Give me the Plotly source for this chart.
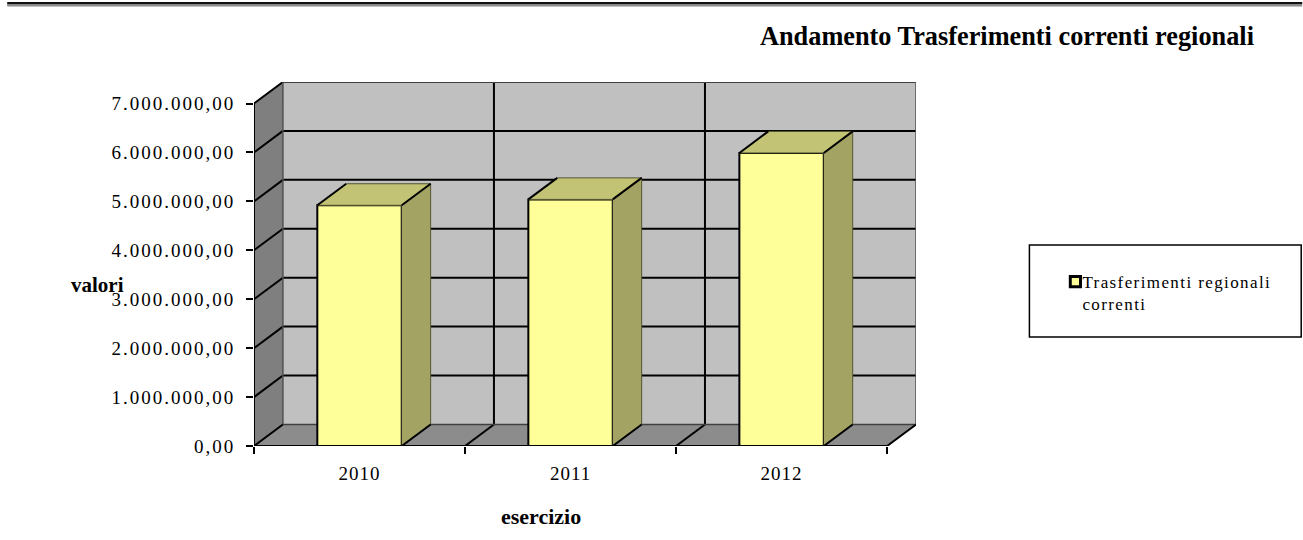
import plotly.graph_objects as go

# --- data ---
years = ["2010", "2011", "2012"]
values = [4920000, 5040000, 5990000]
y_ticks = [0, 1000000, 2000000, 3000000, 4000000, 5000000, 6000000, 7000000]
y_labels = ["0,00", "1.000.000,00", "2.000.000,00", "3.000.000,00",
            "4.000.000,00", "5.000.000,00", "6.000.000,00", "7.000.000,00"]
series_name = "Trasferimenti regionali<br>correnti"
title_text = "Andamento Trasferimenti correnti regionali"

# --- page geometry ---
W, H = 1303, 540
ML, MR, MT, MB = 254, 1303 - 916.5, 82, 94
# --- pseudo-3D depth, in axis units ---
DX, DY = 0.137, 440000
BAR_W = 0.4
X0, X1 = -0.5, 2.5
YMAX = y_ticks[-1]
SERIF = "Liberation Serif"


def px(x):
    return (x - ML) / (W - ML - MR)


def py(y):
    return (H - MB - y) / (H - MT - MB)


xs = list(range(len(years)))
shapes = []


def poly(pts, fill, line=None, w=0):
    d = "M" + "L".join(f"{a},{b}" for a, b in pts) + "Z"
    shapes.append(dict(type="path", path=d, xref="x", yref="y", layer="below",
                       fillcolor=fill, line=dict(color=line or fill, width=w)))


def seg(a, b, c, d, color="black", w=2):
    shapes.append(dict(type="line", x0=a, y0=b, x1=c, y1=d, xref="x", yref="y",
                       layer="below", line=dict(color=color, width=w)))


# walls and floor
poly([(X0 + DX, DY), (X1 + DX, DY), (X1 + DX, YMAX + DY), (X0 + DX, YMAX + DY)], "#C0C0C0")
poly([(X0, 0), (X0 + DX, DY), (X0 + DX, YMAX + DY), (X0, YMAX)], "#7F7F7F")
poly([(X0, 0), (X1, 0), (X1 + DX, DY), (X0 + DX, DY)], "#8C8C8C")
# gridlines
for t in y_ticks[1:]:
    seg(X0, t, X0 + DX, t + DY)
    if t < YMAX:
        seg(X0 + DX, t + DY, X1 + DX, t + DY)
for b in [0.5, 1.5]:
    seg(b, 0, b + DX, DY)
    seg(b + DX, DY, b + DX, YMAX + DY)
# wall edges
seg(X0 + DX, DY, X1 + DX, DY, "#404040", 1.5)
seg(X0 + DX, DY, X0 + DX, YMAX + DY, "#505050", 1.5)
seg(X0 + DX, YMAX + DY, X1 + DX, YMAX + DY, "#404040", 2)
seg(X1 + DX, DY, X1 + DX, YMAX + DY, "#505050", 1.5)
seg(X1, 0, X1 + DX, DY)
seg(X0, 0, X0 + DX, DY)
seg(X0, 0, X0, YMAX)
seg(X0, 0, X1, 0)

# top rule of the page and legend box (page coordinates)
shapes.append(dict(type="rect", xref="paper", yref="paper", x0=px(7), x1=px(1303), y0=py(2), y1=py(4),
                   fillcolor="#111111", line=dict(width=0)))
shapes.append(dict(type="rect", xref="paper", yref="paper", x0=px(7), x1=px(1303), y0=py(4), y1=py(6.5),
                   fillcolor="#8A8A8A", line=dict(width=0)))
shapes.append(dict(type="rect", xref="paper", yref="paper", x0=px(1030), x1=px(1302), y0=py(245), y1=py(337),
                   fillcolor="white", line=dict(color="black", width=1.5)))

fig = go.Figure()
fig.add_trace(go.Bar(x=xs, y=values, width=BAR_W, name=series_name, showlegend=True,
                     marker=dict(color="#FFFF99", line=dict(color="black", width=2)),
                     hovertemplate="%{y:,.2f}<extra></extra>"))

sx, sy, tx, ty, ex, ey = [], [], [], [], [], []
for x, v in zip(xs, values):
    l, r = x - BAR_W / 2, x + BAR_W / 2
    sx += [r, r + DX, r + DX, r, None]
    sy += [0, DY, v + DY, v, None]
    tx += [l, r, r + DX, l + DX, None]
    ty += [v, v, v + DY, v + DY, None]
    ex += [l, l + DX, None, r, r + DX, None, r, r + DX, None]
    ey += [v, v + DY, None, v, v + DY, None, 0, DY, None]

fig.add_trace(go.Scatter(x=sx, y=sy, mode="lines", fill="toself", fillcolor="#A3A364",
                         line=dict(color="#555533", width=1), showlegend=False, hoverinfo="skip"))
fig.add_trace(go.Scatter(x=tx, y=ty, mode="lines", fill="toself", fillcolor="#C3C375",
                         line=dict(color="#555533", width=1), showlegend=False, hoverinfo="skip"))
fig.add_trace(go.Scatter(x=ex, y=ey, mode="lines", line=dict(color="black", width=2),
                         showlegend=False, hoverinfo="skip"))

fig.update_layout(
    width=W, height=H, autosize=False,
    margin=dict(l=ML, r=MR, t=MT, b=MB, pad=0),
    paper_bgcolor="white", plot_bgcolor="white",
    font=dict(family=SERIF, color="black", size=18),
    title=dict(text=f"<b>{title_text}</b>", x=760 / W, xanchor="left", xref="container",
               y=1 - 36 / H, yanchor="middle", yref="container",
               font=dict(family=SERIF, size=26.3, color="black")),
    xaxis=dict(range=[X0, X1 + DX], tickmode="array", tickvals=xs, ticktext=years,
               ticks="", ticklabelstandoff=14, showgrid=False, zeroline=False, showline=False,
               tickfont=dict(family=SERIF, size=19),
               minor=dict(tickmode="array", tickvals=[-0.5, 0.5, 1.5, 2.5], ticks="outside",
                          ticklen=7, tickwidth=2, tickcolor="black", showgrid=False)),
    yaxis=dict(range=[0, YMAX + DY], tickmode="array", tickvals=y_ticks, ticktext=y_labels,
               ticks="outside", ticklen=7, tickwidth=2, tickcolor="black", ticklabelstandoff=7,
               showgrid=False, zeroline=False, showline=False,
               tickfont=dict(family=SERIF, size=19)),
    legend=dict(x=px(1056), y=py(264), xanchor="left", yanchor="top", bgcolor="rgba(0,0,0,0)",
                borderwidth=0, font=dict(family=SERIF, size=17, color="black"), itemclick=False,
                itemdoubleclick=False, entrywidth=225, entrywidthmode="pixels"),
    shapes=shapes,
    annotations=[
        dict(text="<b>valori</b>", xref="paper", yref="paper", x=px(69), y=py(285), xanchor="left",
             yanchor="middle", showarrow=False, font=dict(family=SERIF, size=21)),
        dict(text="<b>esercizio</b>", xref="paper", yref="paper", x=px(541), y=py(516), xanchor="center",
             yanchor="middle", showarrow=False, font=dict(family=SERIF, size=22)),
    ],
)

# Spacing of the labels, as in the reference; text stays real text.
POST = """
document.body.style.margin='0';
function applySpacing(){
  document.querySelectorAll('.ytick text').forEach(function(t){t.style.letterSpacing='2px';});
  document.querySelectorAll('.xtick text').forEach(function(t){t.style.letterSpacing='1px';});
  document.querySelectorAll('.legend .scrollbox, .legend [clip-path]').forEach(function(e){e.removeAttribute('clip-path');});
  document.querySelectorAll('.legendtext').forEach(function(t){
    t.style.letterSpacing='1.4px';
    if(!t.dataset.moved){
      t.dataset.moved='1';
      var dx=-13;
      t.setAttribute('x',parseFloat(t.getAttribute('x'))+dx);
      t.querySelectorAll('tspan[x]').forEach(function(s){s.setAttribute('x',parseFloat(s.getAttribute('x'))+dx);});
    }
  });
  document.querySelectorAll('.legendpoints path').forEach(function(p){
    p.style.strokeWidth='3.5px';
    if(!p.dataset.moved){
      p.dataset.moved='1';
      var orig=p.getAttribute('transform')||'';
      p.setAttribute('transform','translate(0,-11) '+orig+' scale(0.85)');
    }
  });
}
setTimeout(applySpacing,0);
setTimeout(applySpacing,200);
"""
fig.write_html("out.html", config={"displayModeBar": False}, post_script=POST)
